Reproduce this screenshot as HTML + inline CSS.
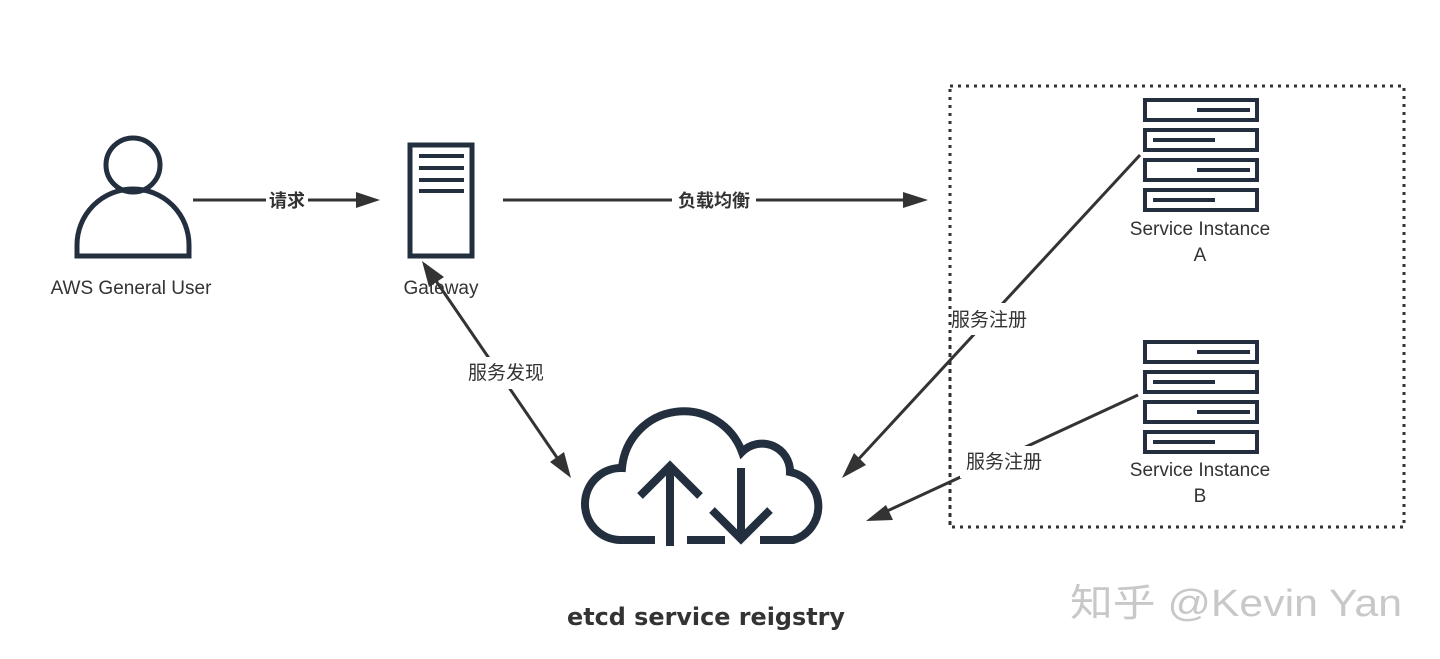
<!DOCTYPE html>
<html><head><meta charset="utf-8"><style>
html,body{margin:0;padding:0;background:#fff;}
svg{display:block;}
</style></head><body>
<svg width="1440" height="659" viewBox="0 0 1440 659" xmlns="http://www.w3.org/2000/svg">
<rect width="1440" height="659" fill="#fff"/>
<rect x="950" y="86" width="454" height="441" fill="none" stroke="#333" stroke-width="3" stroke-dasharray="3,5"/>

<g fill="none" stroke="#232f3e" stroke-width="5">
<circle cx="133" cy="165" r="27"/>
<path d="M77 256 L77 245 A56 56 0 0 1 189 245 L189 256 Z"/>
</g>
<text x="131" y="294" font-family="Liberation Sans, sans-serif" font-size="19" fill="#333" text-anchor="middle">AWS General User</text>

<g stroke="#232f3e">
<rect x="410" y="145" width="62" height="111" fill="#fff" stroke-width="5"/>
<line x1="419" y1="156" x2="464" y2="156" stroke-width="4"/>
<line x1="419" y1="168" x2="464" y2="168" stroke-width="4"/>
<line x1="419" y1="180" x2="464" y2="180" stroke-width="4"/>
<line x1="419" y1="191" x2="464" y2="191" stroke-width="4"/>
</g>
<text x="441" y="294" font-family="Liberation Sans, sans-serif" font-size="19" fill="#333" text-anchor="middle">Gateway</text>

<g stroke="#333" stroke-width="3" fill="#333">
<line x1="193" y1="200" x2="360" y2="200"/>
<polygon points="380,200 356,192 356,208" stroke="none"/>
<line x1="503" y1="200" x2="905" y2="200"/>
<polygon points="928,200 903,192 903,208" stroke="none"/>
<line x1="432" y1="275" x2="560" y2="462"/>
<polygon points="422,261 429,287 444,277" stroke="none"/>
<polygon points="571,478 564,452 550,462" stroke="none"/>
<line x1="1140" y1="155" x2="855" y2="463"/>
<polygon points="842,478 866,465 854,453" stroke="none"/>
<line x1="1138" y1="395" x2="885" y2="512"/>
<polygon points="866,521 893,520 886,505" stroke="none"/>
</g>

<g font-family="Liberation Sans, 'Noto Sans CJK SC', sans-serif" text-anchor="middle">
<rect x="266" y="190" width="42" height="20" fill="#fff"/>
<text x="287" y="207" font-size="18" font-weight="bold" fill="#333">请求</text>
<rect x="672" y="190" width="84" height="20" fill="#fff"/>
<text x="714" y="207" font-size="18" font-weight="bold" fill="#333">负载均衡</text>
<rect x="462" y="357" width="88" height="32" fill="#fff"/>
<text x="506" y="379" font-size="19" fill="#333">服务发现</text>
<rect x="945" y="303" width="88" height="32" fill="#fff"/>
<text x="989" y="326" font-size="19" fill="#333">服务注册</text>
<rect x="960" y="446" width="88" height="32" fill="#fff"/>
<text x="1004" y="468" font-size="19" fill="#333">服务注册</text>
</g>
<line x1="950" y1="290" x2="950" y2="527" stroke="#333" stroke-width="3" stroke-dasharray="3,5"/>

<g id="srvA" fill="#fff" stroke="#232f3e">
<rect x="1145" y="100" width="112" height="20" stroke-width="4"/>
<rect x="1145" y="130" width="112" height="20" stroke-width="4"/>
<rect x="1145" y="160" width="112" height="20" stroke-width="4"/>
<rect x="1145" y="190" width="112" height="20" stroke-width="4"/>
<line x1="1197" y1="110" x2="1250" y2="110" stroke-width="4"/>
<line x1="1153" y1="140" x2="1215" y2="140" stroke-width="4"/>
<line x1="1197" y1="170" x2="1250" y2="170" stroke-width="4"/>
<line x1="1153" y1="200" x2="1215" y2="200" stroke-width="4"/>
</g>
<use href="#srvA" transform="translate(0,242)"/>
<g font-family="Liberation Sans, sans-serif" font-size="19" fill="#333" text-anchor="middle">
<text x="1200" y="235">Service Instance</text>
<text x="1200" y="261">A</text>
<text x="1200" y="476">Service Instance</text>
<text x="1200" y="502">B</text>
</g>

<g fill="none" stroke="#232f3e" stroke-width="8" stroke-linecap="butt">
<path d="M655 540 L620 540 A36 36 0 0 1 622 468 A62 62 0 0 1 742 452 A28 28 0 0 1 790 472 A35 35 0 0 1 793 540 L760 540"/>
<line x1="687" y1="540" x2="725" y2="540"/>
<line x1="670" y1="546" x2="670" y2="468"/>
<polyline points="640,496 670,466 700,496"/>
<line x1="741" y1="468" x2="741" y2="535"/>
<polyline points="712,510 741,539 770,510"/>
</g>

<text x="706" y="625" font-family="DejaVu Sans, Liberation Sans, sans-serif" font-size="24" font-weight="bold" fill="#333" text-anchor="middle" textLength="278" lengthAdjust="spacingAndGlyphs">etcd service reigstry</text>

<text x="1070" y="616" font-family="Liberation Sans, 'Noto Sans CJK SC', sans-serif" font-size="38" fill="#c8c8c8" textLength="332" lengthAdjust="spacingAndGlyphs">知乎 @Kevin Yan</text>
</svg>
</body></html>
